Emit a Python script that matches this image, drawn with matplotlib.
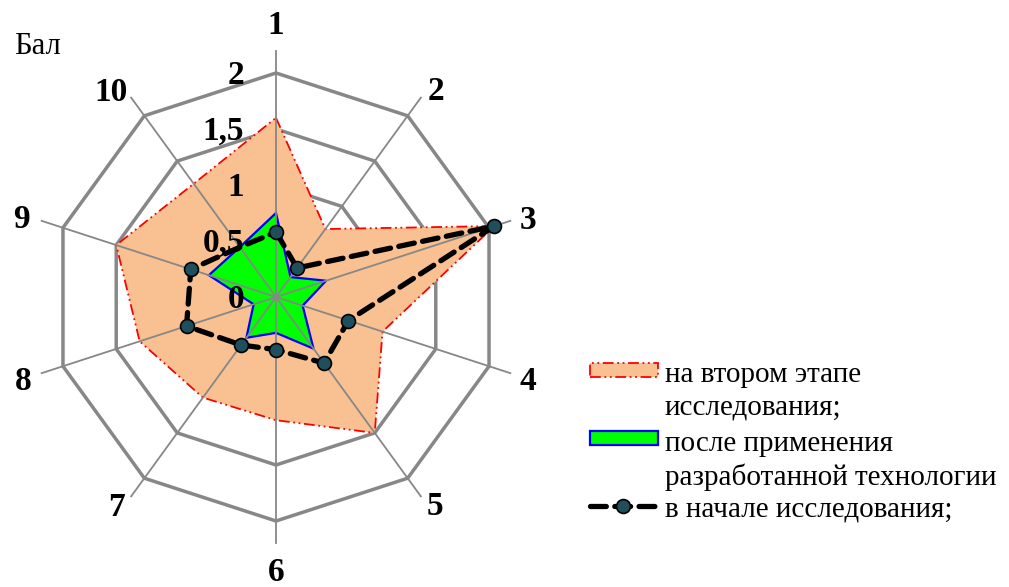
import numpy as np
import matplotlib
matplotlib.use("Agg")
import matplotlib.pyplot as plt
from matplotlib.patches import Polygon, Rectangle
from matplotlib.lines import Line2D

# ---- data ----
categories = ['1', '2', '3', '4', '5', '6', '7', '8', '9', '10']
ring_values = [0.5, 1.0, 1.5, 2.0]
tick_labels = ['0', '0,5', '1', '1,5', '2']
tick_values = [0, 0.5, 1.0, 1.5, 2.0]
second_stage = [1.6, 0.75, 2.05, 1.0, 1.5, 1.1, 1.11, 1.28, 1.5, 1.25]
after_tech = [0.75, 0.22, 0.47, 0.25, 0.57, 0.32, 0.45, 0.21, 0.63, 0.55]
start = [0.58, 0.32, 2.05, 0.68, 0.73, 0.47, 0.53, 0.84, 0.80, 0.55]
legend_labels = ['на втором этапе\nисследования;',
                 'после применения\nразработанной технологии',
                 'в начале исследования;']
y_title = 'Бал'

plt.rcParams['font.family'] = ['Liberation Serif', 'DejaVu Serif']

W, H = 1009, 587
fig = plt.figure(figsize=(W / 100, H / 100), dpi=100)
ax = fig.add_axes([0, 0, 1, 1])
cx, cy, scale = 276, 297, 112.0
ax.set_xlim(-cx / scale, (W - cx) / scale)
ax.set_ylim(-(H - cy) / scale, cy / scale)
ax.axis('off')

n = len(categories)
ang = np.arange(n) * 2 * np.pi / n


def xy(vals):
    v = np.asarray(vals, dtype=float)
    return np.column_stack([v * np.sin(ang), v * np.cos(ang)])


grid_col = '#878787'
# rings
for r in ring_values:
    p = xy([r] * n)
    ax.add_patch(Polygon(p, closed=True, fill=False, ec=grid_col, lw=2.5, zorder=1,
                         joinstyle='miter'))

# second stage
p2 = xy(second_stage)
ax.add_patch(Polygon(p2, closed=True, fc='#F9C192', ec='none', zorder=2))
ax.add_patch(Polygon(p2, closed=True, fill=False, ec='#FF0000', lw=1.3, zorder=2.1,
                     linestyle=(0, (6, 2, 1, 2, 1, 2))))
# after technology
pg = xy(after_tech)
ax.add_patch(Polygon(pg, closed=True, fc='#00FF00', ec='#0000FF', lw=1.6, zorder=3))

# spokes
for a in ang:
    ax.plot([0, 2.2 * np.sin(a)], [0, 2.2 * np.cos(a)], color=grid_col, lw=1.3, zorder=4)

# start line
ps = xy(start)
ps_closed = np.vstack([ps, ps[:1]])
ax.plot(ps_closed[:, 0], ps_closed[:, 1], color='black', lw=3.8,
        linestyle=(0, (3, 1.6)), zorder=5, dash_capstyle='round')
mk = [i for i in range(n) if i != 9]
ax.plot(ps[mk, 0], ps[mk, 1], 'o', ms=10, mfc='#1F4E5C', mec='black', mew=1.2,
        ls='none', zorder=6)

dy_fix = 2.5 / scale  # compensate descent in vertical centering

# value tick labels
for v, t in zip(tick_values, tick_labels):
    ax.text(-32 / scale, v - dy_fix, t, ha='right', va='center', fontsize=24,
            fontweight='bold', zorder=7)

# category labels (distance from centre in px, small angular nudge in degrees)
label_r_px = [274, 262, 264, 265, 261, 273, 262, 266, 267, 265]
label_nudge = [0, 1.5, 0.5, 0, -1.5, 0, 1.5, 0, -0.5, -2.5]
for a, c, rp, nd in zip(ang, categories, label_r_px, label_nudge):
    r = rp / scale
    aa = a + np.deg2rad(nd)
    ax.text(r * np.sin(aa), r * np.cos(aa) - dy_fix, c, ha='center', va='center',
            fontsize=24, fontweight='bold', zorder=7)

# y title
fig.text(37 / W, 1 - 47 / H, y_title, ha='center', va='center', fontsize=22)

# legend (manual)
def fx(px):
    return px / W


def fy(py):
    return 1 - py / H


hx0, hx1 = 590, 658
tx = 665
fs_leg = 21
# item 1
fig.patches.append(Rectangle((fx(hx0), fy(377)), fx(hx1) - fx(hx0), 14 / H,
                             transform=fig.transFigure, fc='#F9C192', ec='#FF0000',
                             lw=1.3, linestyle=(0, (6, 2, 1, 2, 1, 2))))
fig.text(fx(tx), fy(375), legend_labels[0].split('\n')[0], ha='left', va='center', fontsize=fs_leg)
fig.text(fx(tx), fy(407), legend_labels[0].split('\n')[1], ha='left', va='center', fontsize=fs_leg)
# item 2
fig.patches.append(Rectangle((fx(hx0), fy(445)), fx(hx1) - fx(hx0), 14 / H,
                             transform=fig.transFigure, fc='#00FF00', ec='#0000FF', lw=1.6))
fig.text(fx(tx), fy(444), legend_labels[1].split('\n')[0], ha='left', va='center', fontsize=fs_leg)
fig.text(fx(tx), fy(477), legend_labels[1].split('\n')[1], ha='left', va='center', fontsize=fs_leg)
# item 3
fig.lines.append(Line2D([fx(hx0), fx(hx1)], [fy(506), fy(506)], transform=fig.transFigure,
                        color='black', lw=3.8, linestyle=(0, (3, 1.6)),
                        dash_capstyle='round'))
fig.lines.append(Line2D([fx(623)], [fy(506)], transform=fig.transFigure, marker='o',
                        ms=10, mfc='#1F4E5C', mec='black', mew=1.2, ls='none'))
fig.text(fx(tx), fy(509), legend_labels[2], ha='left', va='center', fontsize=fs_leg)

fig.savefig('out.png', dpi=100)
